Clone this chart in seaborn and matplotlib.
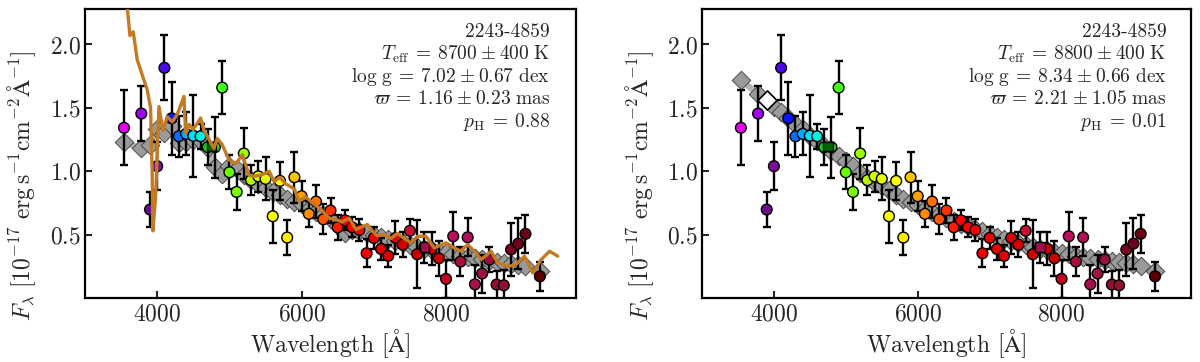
import matplotlib
matplotlib.use("Agg")
import matplotlib.pyplot as plt
import seaborn as sns
import pandas as pd

# ---------------- data ----------------
wave = [3540, 3780, 3900, 4000, 4100, 4200, 4300, 4400, 4500, 4600, 4700, 4800,
        4900, 5000, 5100, 5200, 5300, 5400, 5500, 5600, 5700, 5800, 5900, 6000,
        6100, 6200, 6300, 6400, 6500, 6600, 6700, 6800, 6900, 7000, 7100, 7200,
        7300, 7400, 7500, 7600, 7700, 7800, 7900, 8000, 8100, 8200, 8300, 8400,
        8500, 8600, 8700, 8800, 8900, 9000, 9100, 9300]
flux = [1.343, 1.455, 0.698, 1.040, 1.816, 1.418, 1.276, 1.295, 1.280, 1.276, 1.190, 1.190,
        1.660, 0.992, 0.837, 1.140, 0.930, 0.960, 0.940, 0.645, 0.924, 0.477, 0.953, 0.803,
        0.664, 0.761, 0.621, 0.690, 0.558, 0.613, 0.558, 0.537, 0.353, 0.474, 0.387, 0.332,
        0.474, 0.421, 0.530, 0.345, 0.400, 0.387, 0.313, 0.151, 0.487, 0.287, 0.479, 0.108,
        0.193, 0.303, 0.106, 0.100, 0.382, 0.429, 0.506, 0.171]
flux_err = [0.295, 0.220, 0.135, 0.190, 0.255, 0.290, 0.160, 0.170, 0.325, 0.100, 0.140, 0.240,
            0.210, 0.135, 0.140, 0.200, 0.120, 0.120, 0.170, 0.210, 0.150, 0.135, 0.200, 0.120,
            0.100, 0.130, 0.120, 0.100, 0.100, 0.080, 0.080, 0.090, 0.110, 0.090, 0.090, 0.090,
            0.130, 0.100, 0.090, 0.270, 0.120, 0.130, 0.140, 0.150, 0.190, 0.115, 0.150, 0.150,
            0.150, 0.100, 0.110, 0.120, 0.210, 0.200, 0.150, 0.115]

# synthetic photometry of the best-fit models (left: H-rich, right: He-rich)
model_h = [1.23, 1.18, 1.21, 1.33, 1.30, 1.36, 1.22, 1.23, 1.25, 1.24, 1.18, 1.03,
           0.98, 1.04, 1.02, 0.97, 0.93, 0.90, 0.865, 0.835, 0.81, 0.78, 0.755, 0.74,
           0.70, 0.68, 0.655, 0.625, 0.57, 0.51, 0.535, 0.53, 0.515, 0.50, 0.48, 0.465,
           0.45, 0.435, 0.42, 0.405, 0.39, 0.375, 0.365, 0.355, 0.345, 0.335, 0.325, 0.315,
           0.305, 0.295, 0.285, 0.28, 0.27, 0.26, 0.25, 0.21]
model_he = [1.72, 1.61, 1.56, 1.51, 1.47, 1.42, 1.37, 1.33, 1.28, 1.24, 1.20, 1.16,
            1.12, 1.08, 1.04, 0.99, 0.95, 0.91, 0.88, 0.85, 0.815, 0.78, 0.755, 0.73,
            0.705, 0.68, 0.655, 0.63, 0.605, 0.585, 0.565, 0.545, 0.525, 0.505, 0.485, 0.465,
            0.45, 0.435, 0.42, 0.405, 0.39, 0.375, 0.365, 0.355, 0.345, 0.335, 0.325, 0.315,
            0.31, 0.30, 0.29, 0.285, 0.275, 0.265, 0.25, 0.21]

# broad-band points
bb_wave = [4750, 7700]
bb_flux = [1.197, 0.403]

# spectrum (left panel)
spec_wave = [3560, 3622, 3668, 3723, 3792, 3861, 3908, 3930, 3940, 3978, 4024, 4080,
             4140, 4208, 4280, 4370, 4394, 4440, 4500, 4601, 4650, 4720, 4786, 4832,
             4900, 4994, 5090, 5180, 5271, 5340, 5440, 5549, 5618, 5700, 5780, 5840,
             5900, 5965, 6050, 6150, 6266, 6381, 6475, 6560, 6658, 6750, 6830, 6911,
             6980, 7050, 7150, 7240, 7328, 7420, 7513, 7606, 7722, 7837, 7999, 8115,
             8200, 8300, 8416, 8485, 8624, 8716, 8854, 8960, 9086, 9201, 9318, 9433, 9548]
spec_flux = [2.45, 2.07, 2.10, 1.88, 1.76, 1.645, 1.50, 1.00, 0.53, 0.80, 1.51, 1.32,
             1.43, 1.39, 1.45, 1.59, 1.30, 1.37, 1.33, 1.42, 1.32, 1.25, 1.18, 1.26,
             1.21, 1.09, 1.06, 1.13, 0.97, 0.96, 0.97, 1.00, 0.92, 0.95, 0.90, 0.88,
             0.86, 0.76, 0.80, 0.75, 0.70, 0.63, 0.62, 0.60, 0.63, 0.54, 0.56, 0.58,
             0.53, 0.49, 0.50, 0.47, 0.51, 0.47, 0.435, 0.487, 0.487, 0.395, 0.435, 0.395,
             0.37, 0.421, 0.356, 0.303, 0.369, 0.277, 0.25, 0.26, 0.33, 0.198, 0.303, 0.369, 0.33]

panel_labels = [
    ["2243-4859", r"$T_{\rm eff}\:=\:8700\:\pm\:400\ {\rm K}$",
     r"$\log\,{\rm g}\:=\:7.02\:\pm\:0.67\ {\rm dex}$",
     r"$\varpi\:=\:1.16\:\pm\:0.23\ {\rm mas}$", r"$p_{\rm H}\:=\:0.88$"],
    ["2243-4859", r"$T_{\rm eff}\:=\:8800\:\pm\:400\ {\rm K}$",
     r"$\log\,{\rm g}\:=\:8.34\:\pm\:0.66\ {\rm dex}$",
     r"$\varpi\:=\:2.21\:\pm\:1.05\ {\rm mas}$", r"$p_{\rm H}\:=\:0.01$"],
]

# ---------------- styles ----------------
point_colors = ["#e400f0", "#a000f0", "#6a0d8a", "#7a109a", "#4a0ae6", "#0a14ff", "#0a6eff",
                "#00aaff", "#00e0ff", "#00f0e0", "#18c818", "#30d030", "#40ff10", "#66ff00",
                "#7cff00", "#99ff00", "#b8f500", "#d4ff00", "#e6ff00", "#f5ff00", "#ffff00",
                "#ffee00", "#ffc400", "#ffa200", "#ff8c00", "#ff7000", "#ff5500", "#ff3300",
                "#ff1a00", "#ff0000", "#fa0000", "#f50000", "#f00000", "#eb0000", "#e60000",
                "#e00000", "#dc0000", "#d80000", "#c8102e", "#d00000", "#c8001e", "#cc0000",
                "#c80000", "#c0001c", "#b8105a", "#a8103c", "#b0105a", "#a8104a", "#a01040",
                "#98103a", "#901030", "#901030", "#7a0020", "#700020", "#6a0010", "#5a0000"]
bb_colors = ["#006400", "#a0104f"]

sns.set_theme(style="ticks")
plt.rcParams.update({
    "font.family": "serif",
    "font.serif": ["cmr10"],
    "mathtext.fontset": "cm",
    "axes.formatter.use_mathtext": True,
    "axes.unicode_minus": False,
    "axes.linewidth": 1.6,
    "axes.edgecolor": "black",
})

df = pd.DataFrame({"wave": wave, "flux": flux, "err": flux_err,
                   "model_h": model_h, "model_he": model_he})
palette = dict(zip(wave, point_colors))

fig = plt.figure(figsize=(12, 3.62), dpi=100)
W, H = 1200, 362
ax1 = fig.add_axes([85 / W, 1 - 298 / H, 491 / W, 289 / H])
ax2 = fig.add_axes([702 / W, 1 - 298 / H, 489 / W, 289 / H])

for i, (ax, mcol) in enumerate([(ax1, "model_h"), (ax2, "model_he")]):
    sns.lineplot(data=df, x="wave", y=mcol, ax=ax, color="#b4b4b4", lw=4.5,
                 sort=False, estimator=None, zorder=1)
    sns.scatterplot(data=df, x="wave", y=mcol, ax=ax, marker="D", color="#9a9a9a",
                    edgecolor="#3a3a3a", linewidth=0.6, s=90, zorder=2, legend=False)
    if i == 1:
        sub = df.iloc[[2]]
        sns.scatterplot(data=sub, x="wave", y=mcol, ax=ax, marker="D", color="white",
                        edgecolor="black", linewidth=1.2, s=95, zorder=2.5, legend=False)
    ax.errorbar(df["wave"], df["flux"], yerr=df["err"], fmt="none", ecolor="black",
                elinewidth=1.7, capsize=3.2, capthick=1.7, zorder=3)
    sns.scatterplot(data=df, x="wave", y="flux", hue="wave", palette=palette, ax=ax,
                    s=60, edgecolor="black", linewidth=1.0, zorder=4, legend=False)
    sns.scatterplot(x=bb_wave, y=bb_flux, hue=bb_wave, palette=dict(zip(bb_wave, bb_colors)),
                    ax=ax, marker="s", s=45, edgecolor="black", linewidth=1.0, zorder=5,
                    legend=False)
    if i == 0:
        sns.lineplot(x=spec_wave, y=spec_flux, ax=ax, color="#c47a22", lw=2.4,
                     sort=False, estimator=None, zorder=6)

    ax.set_xlim(3000, 9800)
    ax.set_ylim(0.0, 2.28)
    ax.set_xticks([4000, 6000, 8000])
    ax.set_yticks([0.5, 1.0, 1.5, 2.0])
    ax.tick_params(direction="in", length=5, width=1.5, labelsize=17, pad=4,
                   top=False, right=False)
    ax.tick_params(axis="y", pad=3)
    for sp in ax.spines.values():
        sp.set_linewidth(1.6)
        sp.set_visible(True)
    ax.set_xlabel(r"Wavelength [$\mathrm{\AA}$]", fontsize=17, labelpad=1)
    ax.set_ylabel(r"$F_\lambda\ [10^{-17}\ {\rm erg\,s^{-1}cm^{-2}\AA^{-1}}]$", fontsize=17)
    ax.yaxis.set_label_coords(-0.095, 0.39)

    xr = 0.947 if i == 0 else 0.950
    ys = [0.904, 0.826, 0.749, 0.671, 0.593]
    for txt, yy in zip(panel_labels[i], ys):
        ax.text(xr, yy, txt, transform=ax.transAxes, ha="right", va="baseline",
                fontsize=14, zorder=10)

fig.savefig("out.png", dpi=100)
